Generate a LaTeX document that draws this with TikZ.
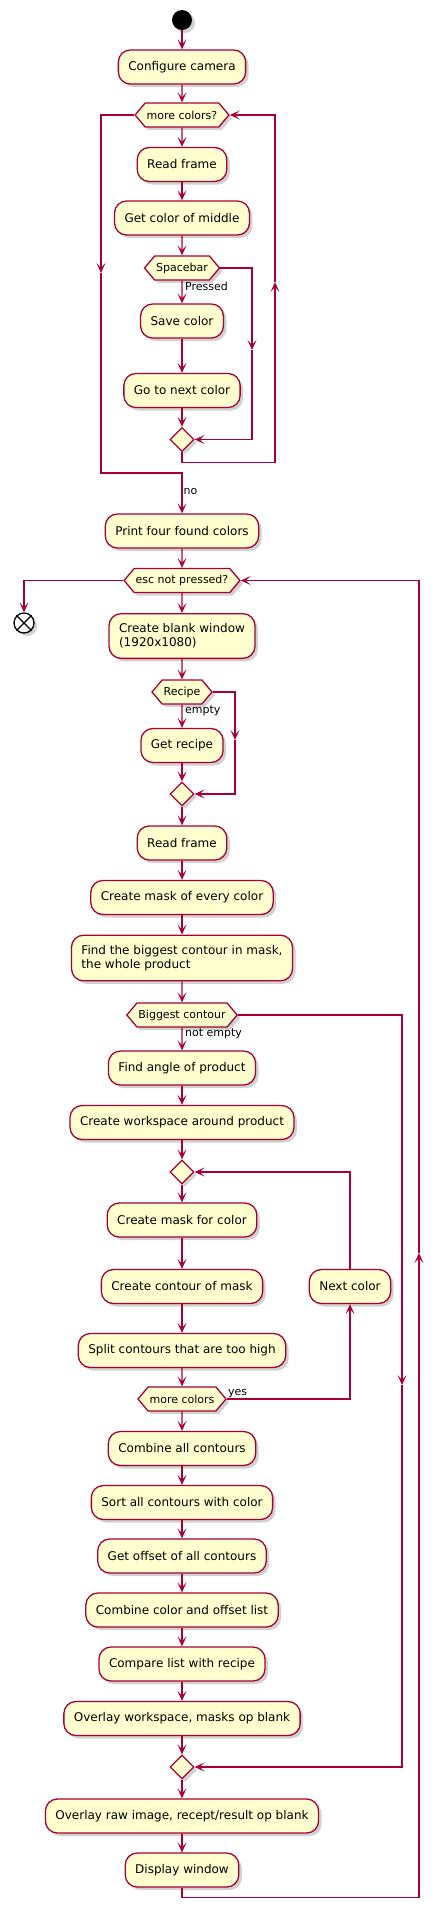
\documentclass[tikz,border=0pt]{standalone}
\usepackage{fontspec}
\setmainfont{DejaVu Sans}
\usetikzlibrary{shapes.geometric,shapes.symbols,shadows,arrows.meta}
\definecolor{umlred}{HTML}{A80036}
\definecolor{umlfill}{HTML}{FEFECE}
\tikzset{
 shad/.style={drop shadow={shadow xshift=3pt,shadow yshift=-3pt,opacity=0.3,fill=black!60}},
 act/.style={draw=umlred, fill=umlfill, line width=1.3pt, rounded corners=12pt, minimum height=34pt, inner xsep=10pt, inner ysep=10pt, font=\fontsize{12}{14}\selectfont, shad, align=left},
 hexa/.style={signal, signal to=east and west, signal pointer angle=100, draw=umlred, fill=umlfill, line width=1.3pt, minimum height=24pt, inner xsep=1.5pt, inner ysep=0pt, font=\fontsize{11}{13}\selectfont, shad},
 merge/.style={diamond, draw=umlred, fill=umlfill, line width=1.3pt, minimum width=24pt, minimum height=24pt, inner sep=0pt, shad},
 flow/.style={draw=umlred, line width=1.3pt, -{Stealth[length=10pt,width=9pt,inset=5pt]}},
 wire/.style={draw=umlred, line width=1.3pt},
 lbl/.style={font=\fontsize{11}{13}\selectfont, inner sep=1pt},
}
\begin{document}
\begin{tikzpicture}[x=1pt,y=-1pt]
\useasboundingbox (0,0) rectangle (444,1920);
% nodes
\node[circle, fill=black, minimum size=20pt, inner sep=0pt, shad] (start) at (182,20) {};
\node[act] (cfg) at (182,67) {Configure camera};
\node[hexa] (mc) at (182,115) {more colors?};
\node[act] (rf1) at (182,164.5) {Read frame};
\node[act] (gcm) at (182,218) {Get color of middle};
\node[hexa] (sp) at (182,268) {Spacebar};
\node[act] (sc) at (182,321) {Save color};
\node[act] (gnc) at (182,390.5) {Go to next color};
\node[merge] (m1) at (182,439.5) {};
\node[act] (pf) at (182,531) {Print four found colors};
\node[hexa] (esc) at (182,580.5) {esc not pressed?};
\node[circle, draw=black, fill=white, line width=1.3pt, minimum size=20pt, inner sep=0pt, shad] (end) at (24,623) {};
\node[act] (cbw) at (182,636) {Create blank window\\(1920x1080)};
\node[hexa] (rec) at (182,692) {Recipe};
\node[act] (gr) at (182,745.5) {Get recipe};
\node[merge] (m2) at (182,794) {};
\node[act] (rf2) at (182,843) {Read frame};
\node[act] (cme) at (182,897.5) {Create mask of every color};
\node[act] (fbc) at (182,958) {Find the biggest contour in mask,\\the whole product};
\node[hexa] (bc) at (182,1015) {Biggest contour};
\node[act] (fap) at (182,1068) {Find angle of product};
\node[act] (cwa) at (182,1122.5) {Create workspace around product};
\node[merge] (m3) at (182,1172) {};
\node[act] (cmc) at (182,1220) {Create mask for color};
\node[act] (ccm) at (182,1286.5) {Create contour of mask};
\node[act] (nc) at (350,1286.5) {Next color};
\node[act] (sct) at (182,1350.5) {Split contours that are too high};
\node[hexa] (mcs) at (182,1399) {more colors};
\node[act] (cac) at (182,1448.5) {Combine all contours};
\node[act] (sac) at (182,1502.5) {Sort all contours with color};
\node[act] (goa) at (182,1556) {Get offset of all contours};
\node[act] (cco) at (182,1610) {Combine color and offset list};
\node[act] (clr) at (182,1664) {Compare list with recipe};
\node[act] (owm) at (182,1718.5) {Overlay workspace, masks op blank};
\node[merge] (m4) at (182,1767) {};
\node[act] (ori) at (182,1816) {Overlay raw image, recept/result op blank};
\node[act] (dw) at (182,1870) {Display window};
\draw[line width=1.3pt] (end.north west) -- (end.south east) (end.north east) -- (end.south west);
% helper coordinates
\coordinate (c9) at (252,350);
\coordinate (c10) at (275,282);
\coordinate (c11) at (101,273);
\coordinate (c11b) at (182,473);
\coordinate (c17) at (235,740);
\coordinate (c22) at (402,1385);
\coordinate (c27) at (419,1253);
% straight flow
\draw[flow] (start) -- (cfg);
\draw[flow] (cfg) -- (mc);
\draw[flow] (mc) -- (rf1);
\draw[flow] (rf1) -- (gcm);
\draw[flow] (gcm) -- (sp);
\draw[flow] (sp) -- (sc);
\node[lbl, anchor=north west, xshift=2pt] at (sp.south) {Pressed};
\draw[flow] (sc) -- (gnc);
\draw[flow] (gnc) -- (m1);
\draw[flow] (sp.east) -| (c9);
\draw[flow] (c9) |- (m1.east);
\draw[flow] (m1.south) -- ++(0,10) -| (c10);
\draw[flow] (c10) |- (mc.east);
\draw[flow] (mc.west) -| (c11);
\draw[flow] (c11) |- (c11b) -- node[lbl, right, pos=0.45] {no} (pf);
\draw[flow] (pf) -- (esc);
\draw[flow] (esc.west) -| (end.north);
\draw[flow] (esc) -- (cbw);
\draw[flow] (cbw) -- (rec);
\draw[flow] (rec) -- (gr);
\node[lbl, anchor=north west, xshift=2pt] at (rec.south) {empty};
\draw[flow] (rec.east) -| (c17);
\draw[flow] (c17) |- (m2.east);
\draw[flow] (gr) -- (m2);
\draw[flow] (m2) -- (rf2);
\draw[flow] (rf2) -- (cme);
\draw[flow] (cme) -- (fbc);
\draw[flow] (fbc) -- (bc);
\draw[flow] (bc) -- (fap);
\node[lbl, anchor=north west, xshift=2pt] at (bc.south) {not empty};
\draw[flow] (bc.east) -| (c22);
\draw[flow] (c22) |- (m4.east);
\draw[flow] (fap) -- (cwa);
\draw[flow] (cwa) -- (m3);
\draw[flow] (m3) -- (cmc);
\draw[flow] (cmc) -- (ccm);
\draw[flow] (ccm) -- (sct);
\draw[flow] (sct) -- (mcs);
\draw[flow] (mcs.east) -| (nc.south);
\node[lbl, anchor=south west] at (mcs.east) {yes};
\draw[flow] (nc.north) |- (m3.east);
\draw[flow] (mcs) -- (cac);
\draw[flow] (cac) -- (sac);
\draw[flow] (sac) -- (goa);
\draw[flow] (goa) -- (cco);
\draw[flow] (cco) -- (clr);
\draw[flow] (clr) -- (owm);
\draw[flow] (owm) -- (m4);
\draw[flow] (m4) -- (ori);
\draw[flow] (ori) -- (dw);
\draw[flow] (dw.south) -- ++(0,10) -| (c27);
\draw[flow] (c27) |- (esc.east);
\end{tikzpicture}
\end{document}
